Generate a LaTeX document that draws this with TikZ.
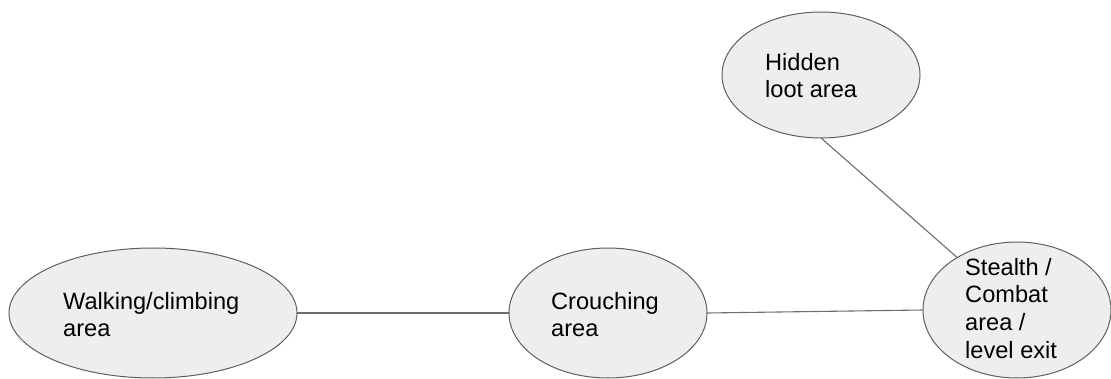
\documentclass[tikz,border=0pt]{standalone}
\usepackage{fontspec}
\setmainfont{Liberation Sans}
\usetikzlibrary{shapes.geometric}
\definecolor{areafill}{HTML}{EEEEEE}
\definecolor{areadraw}{HTML}{5F5F5F}
\definecolor{linkcol}{HTML}{6E6E6E}
\tikzset{
  area/.style={ellipse, draw=areadraw, fill=areafill, line width=1pt, inner sep=0pt, outer sep=0pt},
  txt/.style={inner sep=0pt, align=left, anchor=north west, text=black,
    font=\fontsize{23.6pt}{27.6pt}\selectfont},
  link/.style={draw=linkcol, line width=1.1pt}
}
\begin{document}
\begin{tikzpicture}[x=1pt,y=-1pt]
\useasboundingbox (0,0) rectangle (1111,379);
\node[area, minimum width=288pt, minimum height=130pt] (walk) at (153,313) {};
\node[area, minimum width=198pt, minimum height=130pt] (crouch) at (608,313) {};
\node[area, minimum width=188pt, minimum height=136pt] (stealth) at (1017,310) {};
\node[area, minimum width=198pt, minimum height=126pt] (hidden) at (821,75) {};
\node[txt] (walkt) at (63,292) {Walking/climbing\\area};
\node[txt] (croucht) at (551,292) {Crouching\\area};
\node[txt] (stealtht) at (965,258) {Stealth /\\Combat\\area /\\level exit};
\node[txt] (hiddent) at (765,53) {Hidden\\loot area};
\draw[link] (walk.east) -- (crouch.west);
\draw[link] (crouch.east) -- (stealth.west);
\draw[link] (hidden.south) -- (stealth);
\end{tikzpicture}
\end{document}
